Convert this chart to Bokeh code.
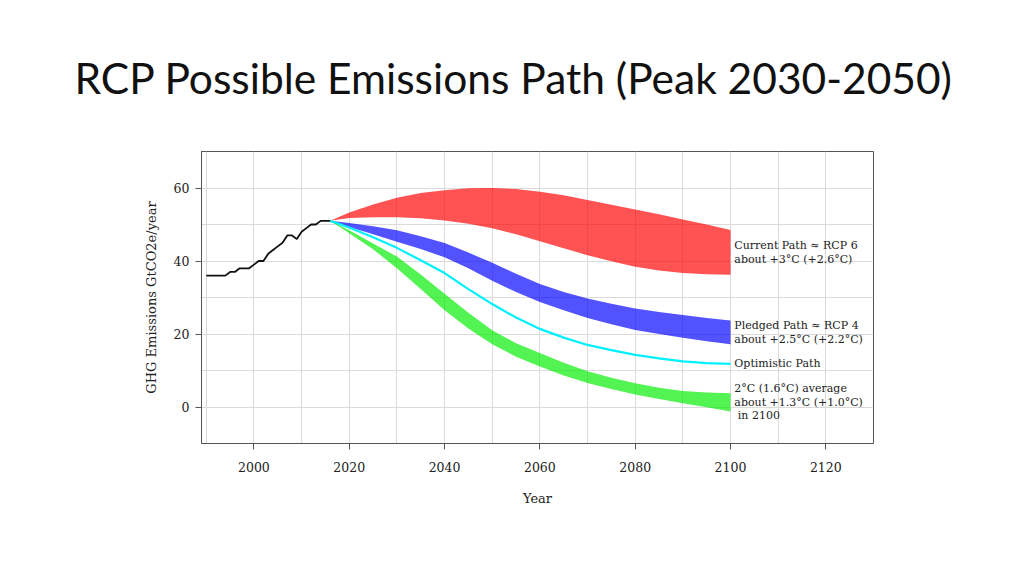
from bokeh.plotting import figure
from bokeh.models import Range1d, SingleIntervalTicker
from bokeh.core.properties import value
from bokeh.embed import file_html
from bokeh.resources import INLINE

# ---------------- data ----------------
hist_years = [1990, 1991, 1992, 1993, 1994, 1995, 1996, 1997, 1998, 1999, 2000, 2001, 2002,
              2003, 2004, 2005, 2006, 2007, 2008, 2009, 2010, 2011, 2012, 2013, 2014, 2015, 2016]
hist_emissions = [36, 36, 36, 36, 36, 37, 37, 38, 38, 38, 39, 40, 40,
                  42, 43, 44, 45, 47, 47, 46, 48, 49, 50, 50, 51, 51, 51]

proj_years = [2016, 2020, 2025, 2030, 2035, 2040, 2045, 2050, 2055, 2060,
              2065, 2070, 2075, 2080, 2085, 2090, 2095, 2100]
current_high = [51, 53.3, 55.5, 57.3, 58.6, 59.4, 59.9, 60.0, 59.7, 59.0,
                58.0, 56.7, 55.4, 54.1, 52.8, 51.4, 50.0, 48.5]
current_low = [51, 51.8, 52.0, 52.0, 51.7, 51.1, 50.2, 49.0, 47.3, 45.4,
               43.5, 41.6, 39.9, 38.4, 37.4, 36.7, 36.4, 36.2]
pledged_high = [51, 50.4, 49.5, 48.4, 46.8, 44.9, 42.3, 39.5, 36.5, 33.7,
                31.5, 29.7, 28.3, 27.0, 26.0, 25.2, 24.4, 23.7]
pledged_low = [51, 49.3, 47.3, 45.3, 43.3, 41.0, 38.0, 34.6, 31.5, 28.8,
               26.5, 24.4, 22.7, 21.1, 20.0, 19.0, 18.0, 17.2]
optimistic = [51, 49.2, 46.5, 43.6, 40.2, 36.7, 32.3, 28.2, 24.5, 21.4,
              19.0, 17.0, 15.6, 14.3, 13.3, 12.5, 12.0, 11.8]
two_deg_high = [51, 48.4, 44.8, 41.2, 36.3, 31.0, 25.8, 21.0, 17.5, 14.8,
                12.1, 9.8, 8.0, 6.5, 5.3, 4.4, 4.0, 3.8]
two_deg_low = [51, 47.6, 43.2, 38.0, 32.3, 26.5, 21.5, 17.2, 13.8, 11.1,
               8.6, 6.6, 4.9, 3.4, 2.2, 1.0, -0.1, -1.2]

path_labels = [
    "Current Path \u2248 RCP 6\nabout +3\u00b0C (+2.6\u00b0C)",
    "Pledged Path \u2248 RCP 4\nabout +2.5\u00b0C (+2.2\u00b0C)",
    "Optimistic Path",
    "2\u00b0C (1.6\u00b0C) average\nabout +1.3\u00b0C (+1.0\u00b0C)\n\u00a0in 2100",
]
title_text = "RCP Possible Emissions Path (Peak 2030-2050)"
x_label = "Year"
y_label = "GHG Emissions GtCO2e/year"

# ---------------- figure ----------------
W, H = 1008, 560
p = figure(width=W, height=H, output_backend="svg", toolbar_location=None,
           x_range=Range1d(1989, 2130), y_range=Range1d(-10, 70),
           min_border_left=201, min_border_right=135,
           min_border_top=151, min_border_bottom=117)

p.title.text = title_text
p.title.text_font = "Lato"
p.title.text_font_size = "42.5px"
p.title.text_font_style = "normal"
p.title.text_color = "#111111"
p.title.align = "left"
p.title.offset = -127
p.title.standoff = 97

serif = "DejaVu Serif"
for ax in (p.xaxis[0], p.yaxis[0]):
    ax.axis_line_color = "#555555"
    ax.major_tick_line_color = "#555555"
    ax.major_tick_out = 6
    ax.major_tick_in = 0
    ax.minor_tick_line_color = None
    ax.major_label_text_font = serif
    ax.major_label_text_font_size = "12.5px"
    ax.major_label_text_color = "#222222"
    ax.axis_label_text_font = serif
    ax.axis_label_text_font_size = "13px"
    ax.axis_label_text_font_style = "normal"
    ax.axis_label_text_color = "#222222"

p.xaxis.ticker = SingleIntervalTicker(interval=20)
p.yaxis.ticker = SingleIntervalTicker(interval=20)
p.xaxis.axis_label = x_label
p.yaxis.axis_label = y_label
p.xaxis.major_label_standoff = 12
p.xaxis.axis_label_standoff = 16
p.yaxis.major_label_standoff = 6
p.yaxis.axis_label_standoff = 12

p.xgrid.ticker = SingleIntervalTicker(interval=10)
p.ygrid.ticker = SingleIntervalTicker(interval=10)
p.xgrid.grid_line_color = "#dadada"
p.ygrid.grid_line_color = "#dadada"

p.outline_line_color = "#555555"
p.outline_line_width = 1

# bands
p.varea(x=proj_years, y1=current_low, y2=current_high, fill_color="#ff0000", fill_alpha=0.68)
p.varea(x=proj_years, y1=pledged_low, y2=pledged_high, fill_color="#0000ff", fill_alpha=0.68)
p.line(x=proj_years, y=optimistic, line_color="#00f0ff", line_width=2.2)
p.varea(x=proj_years, y1=two_deg_low, y2=two_deg_high, fill_color="#00ee00", fill_alpha=0.68)
p.line(x=hist_years, y=hist_emissions, line_color="#111111", line_width=1.8)

# labels at the end of each path
end = len(proj_years) - 1
label_y = [
    (current_high[end] + current_low[end]) / 2,
    (pledged_high[end] + pledged_low[end]) / 2,
    optimistic[end],
    (two_deg_high[end] + two_deg_low[end]) / 2,
]
label_x = [proj_years[end] + 0.8] * len(path_labels)
p.text(x=label_x, y=label_y, text=path_labels,
       text_font=value(serif), text_font_size="11px", text_color="#222222",
       text_align="left", text_baseline="middle", text_line_height=1.05)

open("out.html", "w").write(file_html(p, INLINE))
